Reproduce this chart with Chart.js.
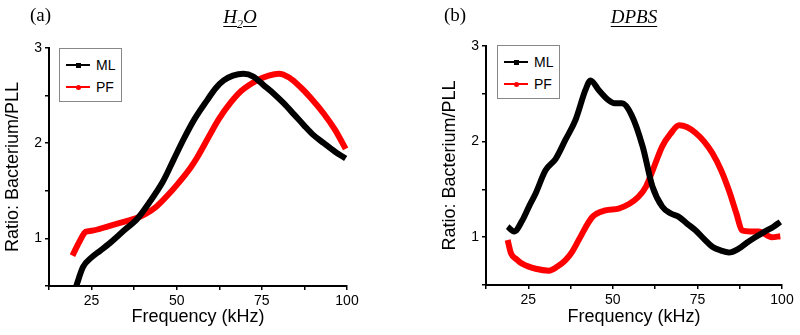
<!DOCTYPE html>
<html>
<head>
<meta charset="utf-8">
<script src="https://cdn.jsdelivr.net/npm/chart.js@4.4.1/dist/chart.umd.min.js"></script>
<style>
  body { margin: 0; background: #fff; }
  #wrap { position: relative; width: 800px; height: 335px; overflow: hidden; }
  .panel { position: absolute; top: 0; width: 400px; height: 335px; }
  .tag { position: absolute; font-family: "Liberation Serif", serif; font-size: 19px; color: #000; }
  .cap { position: absolute; font-family: "Liberation Serif", serif; font-size: 19px; font-style: italic;
         text-decoration: underline; text-underline-offset: 3px; transform: translateX(-50%); white-space: nowrap; }
  .cap sub { font-size: 12px; }
  .legend { position: absolute; border: 1px solid #888; background: #fff; padding: 5px 6px 3px 6px;
            font-family: "Liberation Sans", Arial, sans-serif; font-size: 14px; }
  .row { display: flex; align-items: center; height: 22px; }
  .sym { position: relative; width: 24px; height: 2px; margin-right: 6px; }
  .sym i { position: absolute; left: 10px; top: -1.5px; width: 5px; height: 5px; }
</style>
</head>
<body>
<div id="wrap">
  <div class="panel" style="left:0"><canvas id="chartA" width="400" height="335"></canvas></div>
  <div class="panel" style="left:400px"><canvas id="chartB" width="400" height="335"></canvas></div>

  <div class="tag" style="left:30px; top:4px">(a)</div>
  <div class="cap" style="left:240px; top:6px">H<sub>2</sub>O</div>
  <div class="tag" style="left:444px; top:4px">(b)</div>
  <div class="cap" style="left:634px; top:6px">DPBS</div>

  <div class="legend" style="left:59px; top:48px">
    <div class="row"><span class="sym" style="background:#000"><i style="background:#000"></i></span>ML</div>
    <div class="row"><span class="sym" style="background:#f00"><i style="background:#f00;border-radius:50%"></i></span>PF</div>
  </div>
  <div class="legend" style="left:497px; top:45px">
    <div class="row"><span class="sym" style="background:#000"><i style="background:#000"></i></span>ML</div>
    <div class="row"><span class="sym" style="background:#f00"><i style="background:#f00;border-radius:50%"></i></span>PF</div>
  </div>
</div>

<script>
// (a) H2O
const mlFreqA = [20.5, 22.5, 25, 27.5, 30, 34.4, 38.5, 42, 46, 49, 52, 55, 58.9, 61.5, 63.8, 66.5, 69.6, 72.5, 75.5, 78.5, 81.4, 84.5, 87.3, 90, 93.2, 96.5, 99.6];
const mlRatioA = [0.5, 0.70, 0.80, 0.87, 0.94, 1.08, 1.21, 1.38, 1.60, 1.82, 2.04, 2.24, 2.45, 2.58, 2.66, 2.71, 2.73, 2.70, 2.61, 2.52, 2.42, 2.30, 2.19, 2.09, 2.00, 1.91, 1.84];
const pfFreqA = [19.4, 21.5, 23.3, 25, 30.1, 35, 38, 41, 43.9, 47, 50, 54, 56, 59.9, 62.5, 65.7, 69, 73.6, 77, 80, 83, 86.3, 89.5, 93.2, 96.5, 99.6];
const pfRatioA = [0.82, 0.97, 1.07, 1.08, 1.13, 1.18, 1.21, 1.26, 1.33, 1.44, 1.56, 1.74, 1.85, 2.10, 2.26, 2.42, 2.55, 2.66, 2.71, 2.73, 2.69, 2.59, 2.47, 2.31, 2.14, 1.94];

// (b) DPBS
const mlFreqB = [18.9, 20.8, 23.3, 25.2, 27.2, 30.1, 33.1, 36, 39, 41.9, 43.4, 45.8, 48.8, 50.5, 52.7, 55.5, 58.8, 61.7, 64.6, 67, 69.6, 72, 74.5, 77, 79.4, 82, 84.3, 87.2, 89.5, 92.1, 95, 97.5, 99.5];
const mlRatioB = [1.11, 1.06, 1.18, 1.32, 1.46, 1.70, 1.82, 2.02, 2.23, 2.54, 2.64, 2.54, 2.43, 2.40, 2.40, 2.28, 1.95, 1.53, 1.32, 1.25, 1.21, 1.14, 1.07, 0.98, 0.90, 0.86, 0.84, 0.88, 0.94, 1.00, 1.06, 1.11, 1.16];
const pfFreqB = [18.9, 19.9, 21.5, 23.3, 27.2, 31.1, 33.5, 36, 38, 39.9, 43.9, 47.8, 51.7, 54.9, 57.5, 59.8, 62, 64.6, 67, 69.6, 72, 74.5, 77, 79.4, 82, 84.3, 86.5, 88.2, 90.5, 93.1, 97, 99.5];
const pfRatioB = [0.97, 0.83, 0.77, 0.72, 0.67, 0.65, 0.69, 0.76, 0.85, 0.97, 1.21, 1.28, 1.30, 1.35, 1.42, 1.53, 1.72, 1.95, 2.08, 2.17, 2.15, 2.09, 2.00, 1.88, 1.70, 1.49, 1.25, 1.07, 1.06, 1.06, 1.00, 1.01];

const xTicks = [25, 50, 75, 100];
const yTicks = [1, 2, 3];

const sans = '"Liberation Sans", Arial, sans-serif';

function toPoints(xs, ys) {
  return xs.map((x, i) => ({ x: x, y: ys[i] }));
}

function series(label, xs, ys, color) {
  return {
    label: label,
    data: toPoints(xs, ys),
    borderColor: color,
    backgroundColor: color,
    borderWidth: 6,
    pointRadius: 0,
    tension: 0.35,
    cubicInterpolationMode: 'monotone',
    clip: false
  };
}

function axisStyle() {
  return {
    display: true,
    drawOnChartArea: false,
    drawTicks: true,
    tickLength: 4,
    color: '#000',
    lineWidth: 1.5
  };
}

function makeChart(id, ml, pf, pad, xHeight) {
  return new Chart(document.getElementById(id), {
    type: 'line',
    data: { datasets: [ml, pf] },
    options: {
      responsive: false,
      animation: false,
      layout: { padding: pad },
      plugins: { legend: { display: false }, tooltip: { enabled: false } },
      scales: {
        x: {
          type: 'linear',
          min: 12.5,
          max: 100,
          grid: axisStyle(),
          border: { display: true, color: '#000', width: 2 },
          ticks: {
            stepSize: 12.5,
            autoSkip: false,
            maxRotation: 0,
            padding: 3,
            color: '#000',
            font: { family: sans, size: 14 },
            callback: v => xTicks.includes(v) ? String(v) : ''
          },
          title: {
            display: true,
            text: 'Frequency (kHz)',
            color: '#000',
            font: { family: sans, size: 18 },
            padding: { top: 0, bottom: 7 }
          },
          afterFit: s => { s.height = xHeight; }
        },
        y: {
          min: 0.5,
          max: 3,
          grid: axisStyle(),
          border: { display: true, color: '#000', width: 2 },
          ticks: {
            stepSize: 0.5,
            padding: 3,
            color: '#000',
            font: { family: sans, size: 14 },
            callback: v => yTicks.includes(v) ? String(v) : ''
          },
          title: {
            display: true,
            text: 'Ratio: Bacterium/PLL',
            color: '#000',
            font: { family: sans, size: 18 },
            padding: { top: 2, bottom: 0 }
          },
          afterFit: s => { s.width = 49; }
        }
      }
    }
  });
}

makeChart('chartA',
  series('ML', mlFreqA, mlRatioA, '#000000'),
  series('PF', pfFreqA, pfRatioA, '#ff0000'),
  { left: 0, right: 53, top: 48, bottom: 0 }, 49);

makeChart('chartB',
  series('ML', mlFreqB, mlRatioB, '#000000'),
  series('PF', pfFreqB, pfRatioB, '#ff0000'),
  { left: 37, right: 18, top: 46, bottom: 0 }, 50);
</script>
</body>
</html>
